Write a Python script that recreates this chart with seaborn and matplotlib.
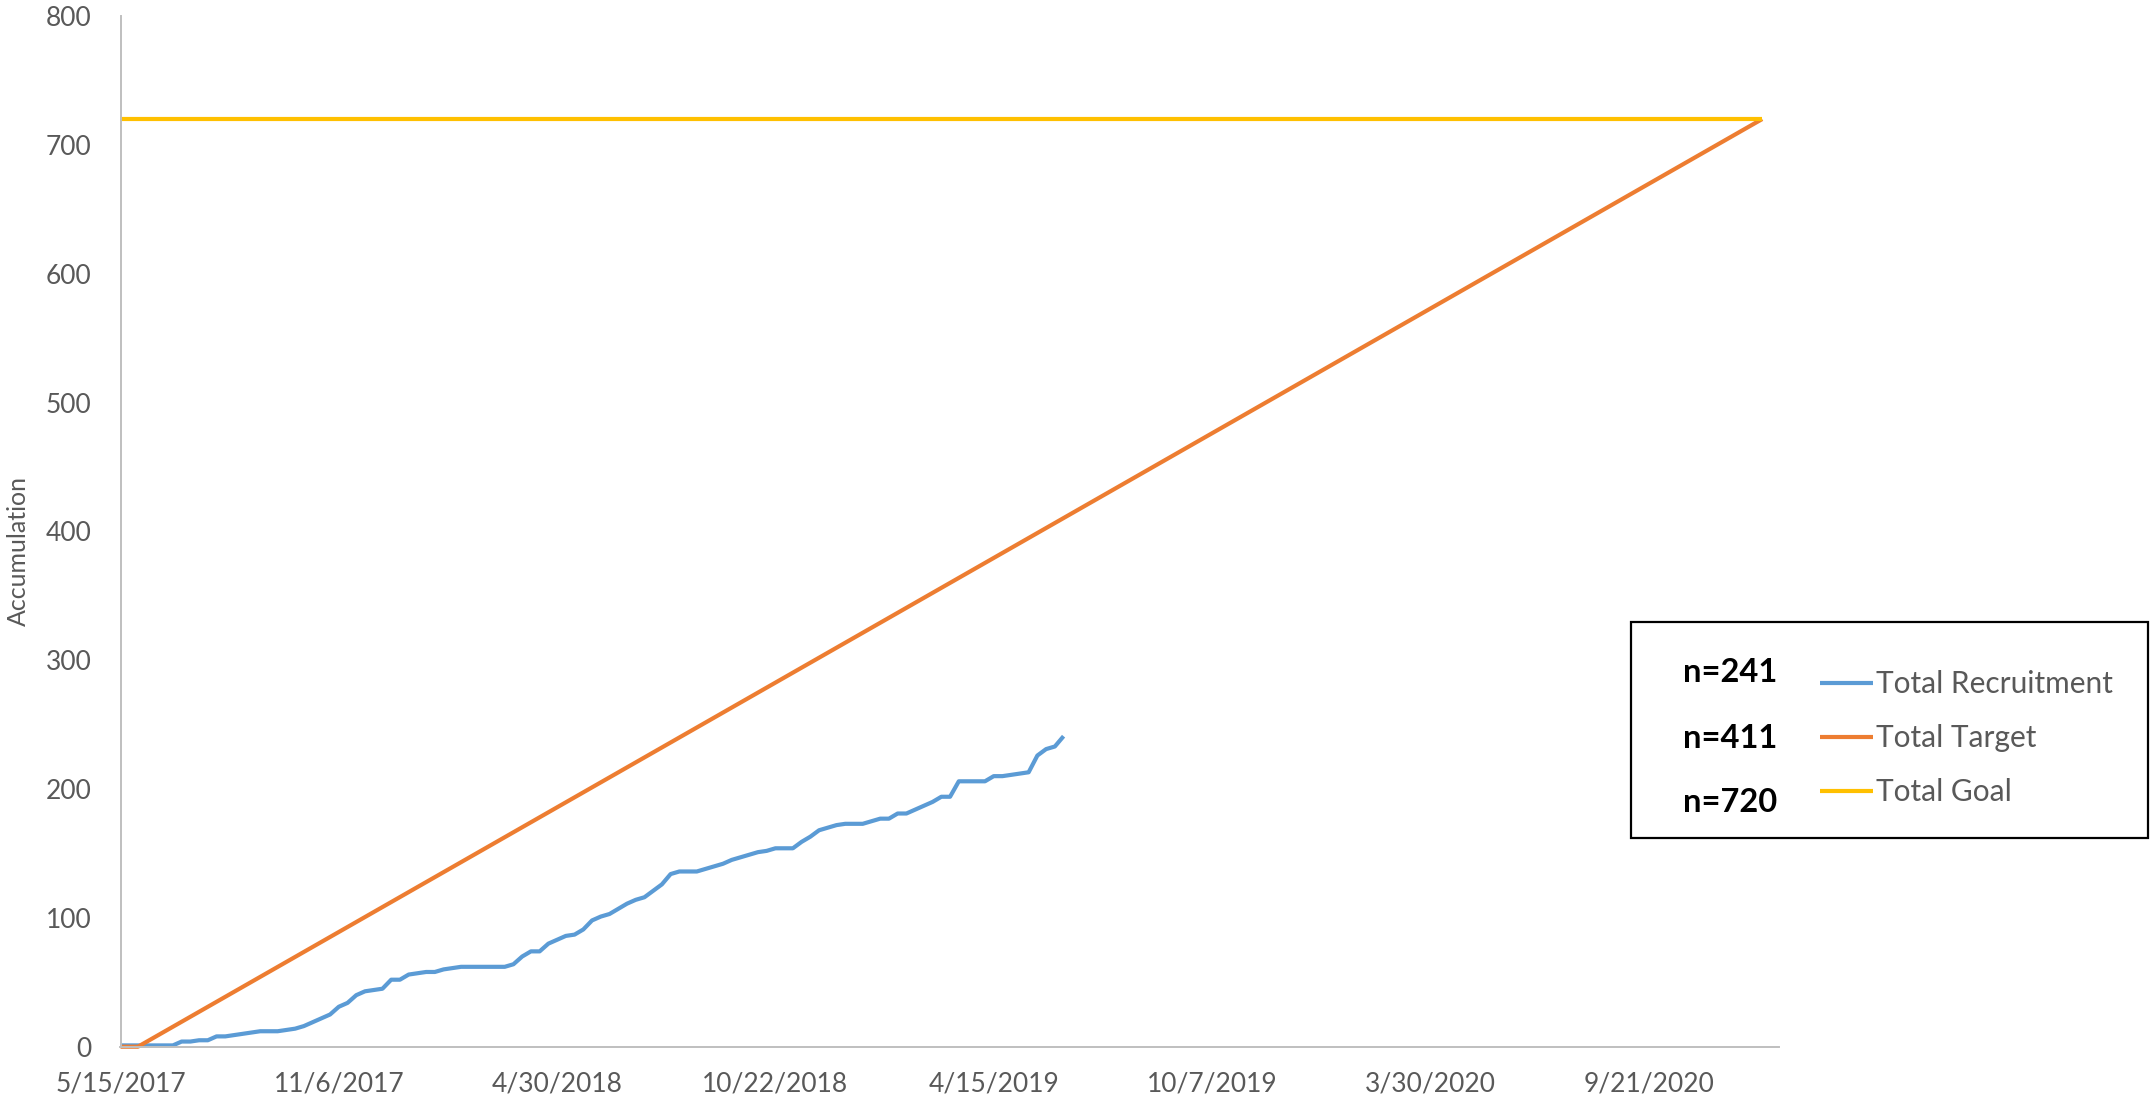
import numpy as np
import pandas as pd
import matplotlib
matplotlib.use("Agg")
import matplotlib.pyplot as plt
from matplotlib.patches import Rectangle
import seaborn as sns

# ---------------- data ----------------
start_date = "2017-05-15"
n_weeks = 109
recruitment = [1, 1, 1, 1, 1, 1, 1, 4, 4, 5, 5, 8, 8, 9, 10, 11, 12, 12, 12, 13,
               14, 16, 19, 22, 25, 31, 34, 40, 43, 44, 45, 52, 52, 56, 57, 58, 58, 60,
               61, 62, 62, 62, 62, 62, 62, 64, 70, 74, 74, 80, 83, 86, 87, 91, 98, 101,
               103, 107, 111, 114, 116, 121, 126, 134, 136, 136, 136, 138, 140, 142, 145,
               147, 149, 151, 152, 154, 154, 154, 159, 163, 168, 170, 172, 173, 173, 173,
               175, 177, 177, 181, 181, 184, 187, 190, 194, 194, 206, 206, 206, 206, 210,
               210, 211, 212, 213, 226, 231, 233, 241]
target_dates = ["2017-05-15", "2017-05-29", "2020-12-21"]
target_values = [0, 0, 720]
goal_dates = ["2017-05-15", "2020-12-21"]
goal_values = [720, 720]
series_labels = ["Total Recruitment", "Total Target", "Total Goal"]
n_labels = ["n=241", "n=411", "n=720"]
x_tick_dates = ["2017-05-15", "2017-11-06", "2018-04-30", "2018-10-22",
                "2019-04-15", "2019-10-07", "2020-03-30", "2020-09-21"]
x_tick_labels = ["5/15/2017", "11/6/2017", "4/30/2018", "10/22/2018",
                 "4/15/2019", "10/7/2019", "3/30/2020", "9/21/2020"]
y_ticks = [0, 100, 200, 300, 400, 500, 600, 700, 800]
x_limits = ["2017-05-15", "2021-01-03 12:00"]

colors = ["#5B9BD5", "#ED7D31", "#FFC000"]

# ---------------- frames ----------------
rec_df = pd.DataFrame({"date": pd.date_range(start_date, periods=n_weeks, freq="7D"),
                       "value": recruitment})
tgt_df = pd.DataFrame({"date": pd.to_datetime(target_dates), "value": target_values})
goal_df = pd.DataFrame({"date": pd.to_datetime(goal_dates), "value": goal_values})

sns.set_style("white")
plt.rcParams["font.family"] = ["Lato", "DejaVu Sans"]

W, H = 2152, 1106
fig = plt.figure(figsize=(W / 100, H / 100), dpi=100)
x0, x1 = 120.5, 1779
y_zero, y_top = 1046.7, 16
ax = fig.add_axes([x0 / W, 1 - y_zero / H, (x1 - x0) / W, (y_zero - y_top) / H])

lw = 3.0
for df, c, lab in zip([rec_df, tgt_df, goal_df], colors, series_labels):
    sns.lineplot(data=df, x="date", y="value", color=c, lw=lw, label=lab, ax=ax,
                 clip_on=False, solid_capstyle="butt")

ax.set_xlim(pd.to_datetime(x_limits[0]), pd.to_datetime(x_limits[1]))
ax.set_ylim(0, 800)
ax.set_yticks(y_ticks)
ax.set_xticks(pd.to_datetime(x_tick_dates))
ax.set_xticklabels(x_tick_labels)

ax.set_xlabel("")
ax.set_ylabel("Accumulation", fontsize=18, color="#595959")
ax.yaxis.label.set_va("center")
ax.yaxis.label.set_ha("center")
ax.yaxis.set_label_coords(-(x0 - 18) / (x1 - x0), (y_zero - 551) / (y_zero - y_top))

ax.tick_params(axis="both", length=0, labelsize=19, labelcolor="#595959")
ax.tick_params(axis="y", pad=21)
ax.tick_params(axis="x", pad=18)

for s in ["top", "right"]:
    ax.spines[s].set_visible(False)
for s in ["left", "bottom"]:
    ax.spines[s].set_color("#BFBFBF")
    ax.spines[s].set_linewidth(1.4)
ax.grid(False)

# ---------------- legend box ----------------
handles, labels = ax.get_legend_handles_labels()
ax.legend(handles, labels, loc="upper left",
          bbox_to_anchor=(1819.5 / W, 1 - 670 / H), bbox_transform=fig.transFigure,
          frameon=False, fontsize=21.5, labelcolor="#595959",
          handlelength=1.78, handletextpad=0.1, labelspacing=0.87,
          borderpad=0, borderaxespad=0)

box = Rectangle((1631 / W, 1 - 838 / H), (2148 - 1631) / W, (838 - 622) / H,
                transform=fig.transFigure, fill=False, edgecolor="black", lw=1.6)
fig.patches.append(box)

for lab, yc in zip(n_labels, [672, 738, 803]):
    fig.text(1683 / W, 1 - yc / H, lab, fontsize=23.5, fontweight="bold",
             color="black", ha="left", va="center")

fig.savefig("out.png", dpi=100, facecolor="white")
